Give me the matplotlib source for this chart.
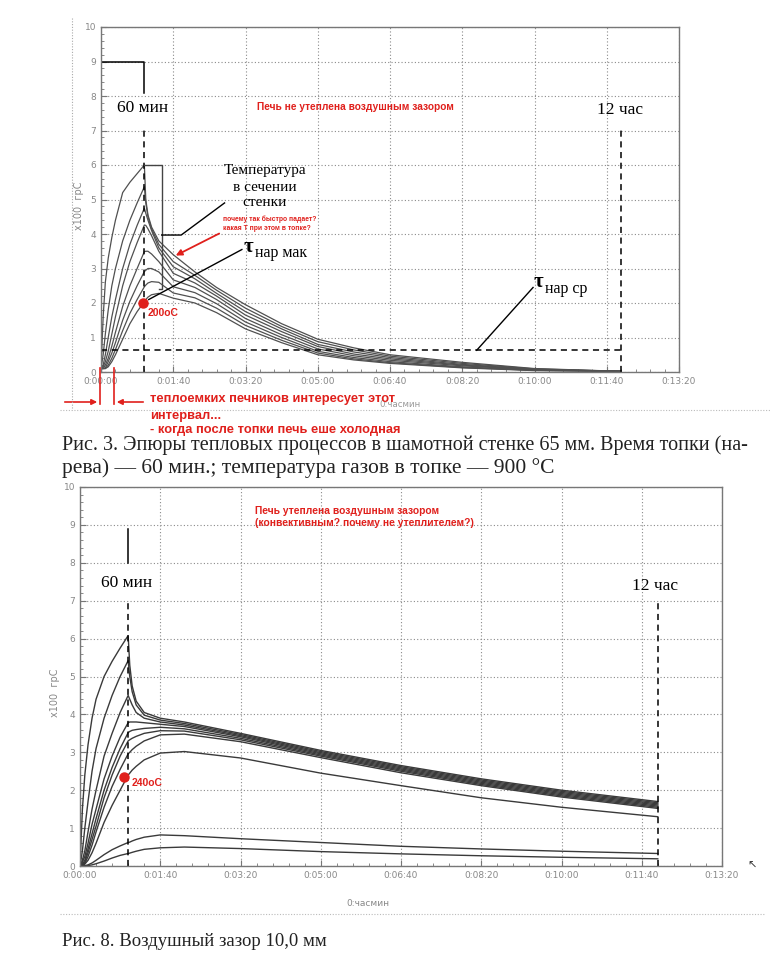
import matplotlib
matplotlib.use('Agg')
from matplotlib import pyplot as plt
from matplotlib.lines import Line2D

W, H = 777, 965

# ---- Рис. 3 : time in minutes, temperature in x100 °C
t1 = [0, 3, 6, 10, 15, 20, 30, 40, 50, 60, 62, 65, 70, 80, 100, 130, 160, 200, 250, 300, 350, 400, 500, 600, 720]
a1 = [0.1, 1.6, 2.6, 3.3, 3.9, 4.4, 5.2, 5.5, 5.75, 6.0, 5.0, 4.55, 4.2, 3.8, 3.4, 2.9, 2.45, 1.95, 1.4, 0.95, 0.7, 0.5, 0.28, 0.1, 0.02]
b1 = [0.1, 0.5, 1.1, 1.8, 2.5, 3.0, 3.8, 4.4, 4.9, 5.37, 4.9, 4.5, 4.15, 3.7, 3.2, 2.8, 2.37, 1.85, 1.32, 0.88, 0.64, 0.46, 0.25, 0.09, 0.02]
c1 = [0.1, 0.2, 0.5, 1.0, 1.6, 2.1, 3.0, 3.7, 4.25, 4.75, 4.6, 4.4, 4.1, 3.6, 3.05, 2.7, 2.28, 1.75, 1.25, 0.8, 0.58, 0.42, 0.22, 0.08, 0.02]
d1 = [0.1, 0.15, 0.3, 0.6, 1.1, 1.6, 2.5, 3.2, 3.75, 4.26, 4.25, 4.15, 3.95, 3.5, 2.86, 2.58, 2.2, 1.65, 1.17, 0.74, 0.52, 0.38, 0.2, 0.07, 0.02]
e1 = [0.1, 0.1, 0.2, 0.4, 0.75, 1.15, 1.9, 2.5, 3.0, 3.49, 3.5, 3.5, 3.42, 3.2, 2.67, 2.45, 2.1, 1.55, 1.08, 0.67, 0.47, 0.34, 0.18, 0.06, 0.02]
f1 = [0.1, 0.1, 0.12, 0.3, 0.55, 0.85, 1.5, 2.05, 2.5, 2.91, 2.95, 3.0, 3.0, 2.9, 2.47, 2.3, 1.98, 1.45, 1.0, 0.6, 0.42, 0.3, 0.15, 0.05, 0.02]
g1 = [0.1, 0.1, 0.1, 0.2, 0.4, 0.65, 1.2, 1.7, 2.1, 2.47, 2.52, 2.58, 2.62, 2.6, 2.29, 2.15, 1.85, 1.35, 0.92, 0.55, 0.38, 0.27, 0.13, 0.05, 0.02]
h1 = [0.1, 0.1, 0.1, 0.15, 0.3, 0.5, 0.95, 1.4, 1.75, 2.04, 2.1, 2.17, 2.24, 2.28, 2.14, 2.0, 1.72, 1.25, 0.85, 0.5, 0.35, 0.25, 0.12, 0.04, 0.02]
curves1 = [a1, b1, c1, d1, e1, f1, g1, h1]

# ---- Рис. 8 : air gap 10 mm
t2 = [0, 3, 6, 10, 15, 20, 30, 40, 50, 60, 62, 65, 70, 80, 100, 130, 200, 300, 400, 500, 600, 720]
a2 = [0, 1.5, 2.4, 3.2, 3.9, 4.4, 5.0, 5.4, 5.75, 6.08, 5.3, 4.75, 4.35, 4.05, 3.9, 3.8, 3.5, 3.05, 2.65, 2.3, 2.0, 1.7]
b2 = [0, 0.4, 1.0, 1.7, 2.5, 3.1, 3.9, 4.5, 5.0, 5.42, 5.0, 4.6, 4.25, 3.98, 3.85, 3.76, 3.47, 3.02, 2.62, 2.27, 1.97, 1.67]
c2 = [0, 0.15, 0.4, 0.9, 1.5, 2.0, 2.9, 3.5, 4.05, 4.5, 4.4, 4.25, 4.05, 3.9, 3.8, 3.72, 3.44, 2.99, 2.59, 2.24, 1.94, 1.64]
d2 = [0, 0.1, 0.25, 0.6, 1.1, 1.5, 2.3, 2.9, 3.4, 3.78, 3.8, 3.8, 3.8, 3.78, 3.74, 3.68, 3.41, 2.96, 2.56, 2.21, 1.91, 1.61]
e2 = [0, 0.05, 0.15, 0.45, 0.85, 1.25, 2.0, 2.6, 3.1, 3.52, 3.55, 3.58, 3.6, 3.63, 3.66, 3.62, 3.37, 2.93, 2.53, 2.18, 1.88, 1.58]
f2 = [0, 0.03, 0.1, 0.35, 0.7, 1.05, 1.8, 2.4, 2.9, 3.3, 3.33, 3.37, 3.42, 3.5, 3.57, 3.56, 3.33, 2.9, 2.5, 2.15, 1.85, 1.55]
g2 = [0, 0.02, 0.07, 0.25, 0.55, 0.9, 1.55, 2.1, 2.55, 2.96, 3.0, 3.07, 3.16, 3.3, 3.46, 3.48, 3.28, 2.86, 2.46, 2.12, 1.82, 1.52]
h2 = [0, 0.01, 0.05, 0.15, 0.35, 0.6, 1.15, 1.6, 2.0, 2.4, 2.45, 2.53, 2.63, 2.8, 2.98, 3.02, 2.85, 2.45, 2.12, 1.8, 1.55, 1.3]
l2a = [0, 0, 0.01, 0.03, 0.08, 0.15, 0.3, 0.43, 0.53, 0.62, 0.63, 0.66, 0.7, 0.76, 0.82, 0.8, 0.72, 0.62, 0.52, 0.45, 0.39, 0.33]
l2b = [0, 0, 0, 0.01, 0.03, 0.06, 0.13, 0.21, 0.28, 0.33, 0.34, 0.36, 0.39, 0.44, 0.48, 0.5, 0.46, 0.38, 0.32, 0.27, 0.23, 0.19]
curves2 = [a2, b2, c2, d2, e2, f2, g2, h2, l2a, l2b]

xticks = [0, 100, 200, 300, 400, 500, 600, 700, 800]
xlabels = ['0:00:00', '0:01:40', '0:03:20', '0:05:00', '0:06:40', '0:08:20', '0:10:00', '0:11:40', '0:13:20']
yticks = list(range(11))

RED = '#e0201c'
SERIF = 'Liberation Serif'
SANS = 'Liberation Sans'


def box(l, t, r, b):
    return [l / W, 1 - b / H, (r - l) / W, (b - t) / H]


def fx(x):
    return x / W


def fy(y):
    return 1 - y / H


def setup(ax):
    ax.set_xlim(0, 800)
    ax.set_ylim(0, 10)
    ax.set_xticks(xticks)
    ax.set_xticklabels(xlabels)
    ax.set_yticks(yticks)
    ax.set_yticklabels([str(v) for v in yticks])
    ax.set_xticks(range(0, 801, 20), minor=True)
    ax.set_yticks([v / 5 for v in range(51)], minor=True)
    ax.tick_params(which='both', direction='in', colors='#777', labelsize=6.5,
                   labelcolor='#888')
    ax.tick_params(which='major', length=4)
    ax.tick_params(which='minor', length=2)
    ax.grid(True, which='major', color='#8a8a8a', lw=0.8, linestyle=(0, (1, 2)))
    for s in ax.spines.values():
        s.set_color('#777')
        s.set_linewidth(1.0)
    ax.spines['top'].set_linestyle((0, (1, 1)))
    ax.spines['left'].set_linestyle((0, (1, 1)))


fig = plt.figure(figsize=(W / 100, H / 100), dpi=100)

# ================= Рис. 3 =================
ax1 = fig.add_axes(box(101, 27, 679, 372))
setup(ax1)
for ys in curves1:
    ax1.plot(t1, ys, color='#505050', lw=0.9)

ax1.plot([0, 60, 60], [9, 9, 8.1], color='k', lw=1.1)
ax1.plot([60, 60], [0, 7.05], color='k', lw=1.1, ls=(0, (4, 3)))
ax1.plot([720, 720], [0, 7.05], color='k', lw=1.1, ls=(0, (4, 3)))
ax1.plot([0, 720], [0.63, 0.63], color='k', lw=1.1, ls=(0, (4, 3)))
ax1.text(57, 7.65, '60 мин', family=SERIF, fontsize=12.5, ha='center', va='center')
ax1.text(719, 7.6, '12 час', family=SERIF, fontsize=12.5, ha='center', va='center')

# bracket "Температура в сечении стенки"
ax1.plot([60, 84, 84, 80], [6.0, 6.0, 2.4, 2.4], color='#444', lw=1.0)
ax1.plot([84, 111, 171], [3.97, 3.97, 4.9], color='k', lw=1.0)
for txt, yv in (('Температура', 5.83), ('в сечении', 5.36), ('стенки', 4.9)):
    ax1.text(227, yv, txt, family=SERIF, fontsize=11, ha='center', va='center')

ax1.text(169, 4.3, 'почему так быстро падает?\nкакая Т при этом в топке?', color=RED,
         family=SANS, weight='bold', fontsize=4.9, ha='left', va='center', linespacing=1.3)
ax1.annotate('', xy=(100, 3.34), xytext=(167, 4.05),
             arrowprops=dict(arrowstyle='-|>', color=RED, lw=1.3, mutation_scale=9))

ax1.plot([66, 195], [2.1, 3.55], color='k', lw=1.0)
ax1.text(204, 3.62, 'τ', family=SERIF, fontsize=15, weight='bold', ha='center', va='center')
ax1.text(213, 3.45, 'нар мак', family=SERIF, fontsize=11.5, ha='left', va='center')

ax1.plot([520, 598], [0.63, 2.45], color='k', lw=1.0)
ax1.text(606, 2.6, 'τ', family=SERIF, fontsize=15, weight='bold', ha='center', va='center')
ax1.text(615, 2.4, 'нар ср', family=SERIF, fontsize=11.5, ha='left', va='center')

ax1.plot([58.5], [2.0], 'o', color=RED, ms=6.5, zorder=5)
ax1.text(65, 1.72, '200oC', color=RED, family=SANS, weight='bold', fontsize=7.5,
         ha='left', va='center')
ax1.text(216, 7.68, 'Печь не утеплена воздушным зазором', color=RED, family=SANS,
         weight='bold', fontsize=7.3, ha='left', va='center')

fig.text(fx(79), fy(206), 'x100  грС', rotation=90, color='#888', fontsize=7,
         ha='center', va='center')
fig.text(fx(400), fy(405), '0:часмин', color='#999', fontsize=6.2, ha='center', va='center')

# frame of the scanned chart
fig.add_artist(Line2D([fx(72), fx(72)], [fy(18), fy(410)], color='#aaa', lw=0.8,
                      ls=(0, (1, 1.5))))
fig.add_artist(Line2D([fx(60), fx(770)], [fy(410), fy(410)], color='#bbb', lw=0.8,
                      ls=(0, (1, 1.5))))

# red interval marks below the axis
for xv in (100, 114):
    fig.add_artist(Line2D([fx(xv), fx(xv)], [fy(368), fy(404)], color=RED, lw=1.2))
ax1.annotate('', xy=(fx(100), fy(402)), xytext=(fx(62), fy(402)), xycoords='figure fraction',
             arrowprops=dict(arrowstyle='-|>', color=RED, lw=1.2, mutation_scale=8))
ax1.annotate('', xy=(fx(114), fy(402)), xytext=(fx(146), fy(402)), xycoords='figure fraction',
             arrowprops=dict(arrowstyle='-|>', color=RED, lw=1.2, mutation_scale=8))
fig.text(fx(150), fy(399), 'теплоемких печников интересует этот', color=RED, family=SANS,
         weight='bold', fontsize=9.3, ha='left', va='center')
fig.text(fx(150), fy(416), 'интервал...', color=RED, family=SANS,
         weight='bold', fontsize=9.3, ha='left', va='center')
fig.text(fx(150), fy(430), '- когда после топки печь еше холодная', color=RED, family=SANS,
         weight='bold', fontsize=9.3, ha='left', va='center', zorder=5)

fig.text(fx(62), fy(445), 'Рис. 3. Эпюры тепловых процессов в шамотной стенке 65 мм. Время топки (на-',
         family=SERIF, fontsize=14.5, ha='left', va='center', color='#222', zorder=1)
fig.text(fx(62), fy(468), 'рева) — 60 мин.; температура газов в топке — 900 °С',
         family=SERIF, fontsize=15.5, ha='left', va='center', color='#222')

# ================= Рис. 8 =================
ax2 = fig.add_axes(box(80, 487, 722, 866))
setup(ax2)
for ys in curves2:
    ax2.plot(t2, ys, color='#3a3a3a', lw=1.0)

ax2.plot([60, 60], [8.0, 8.9], color='k', lw=1.1)
ax2.plot([60, 60], [0, 7.0], color='k', lw=1.1, ls=(0, (4, 3)))
ax2.plot([720, 720], [0, 7.0], color='k', lw=1.1, ls=(0, (4, 3)))
ax2.text(58.5, 7.46, '60 мин', family=SERIF, fontsize=12.5, ha='center', va='center')
ax2.text(716, 7.38, '12 час', family=SERIF, fontsize=12.5, ha='center', va='center')
ax2.text(218, 9.22, 'Печь утеплена воздушным зазором\n(конвективным? почему не утеплителем?)',
         color=RED, family=SANS, weight='bold', fontsize=7.4, ha='left', va='center',
         linespacing=1.25)
ax2.plot([55], [2.34], 'o', color=RED, ms=6.5, zorder=5)
ax2.text(64, 2.2, '240oC', color=RED, family=SANS, weight='bold', fontsize=7.5,
         ha='left', va='center')

fig.text(fx(55), fy(693), 'x100  грС', rotation=90, color='#888', fontsize=7,
         ha='center', va='center')
fig.text(fx(368), fy(903), '0:часмин', color='#888', fontsize=6.5, ha='center', va='center')
fig.text(fx(752), fy(866), '↖', color='#333', fontsize=8, ha='center', va='center')
fig.add_artist(Line2D([fx(60), fx(765)], [fy(914), fy(914)], color='#bbb', lw=0.8,
                      ls=(0, (1, 1.5))))

fig.text(fx(62), fy(941), 'Рис. 8. Воздушный зазор 10,0 мм', family=SERIF, fontsize=13.5,
         ha='left', va='center', color='#222')

fig.savefig('out.png', dpi=100)
